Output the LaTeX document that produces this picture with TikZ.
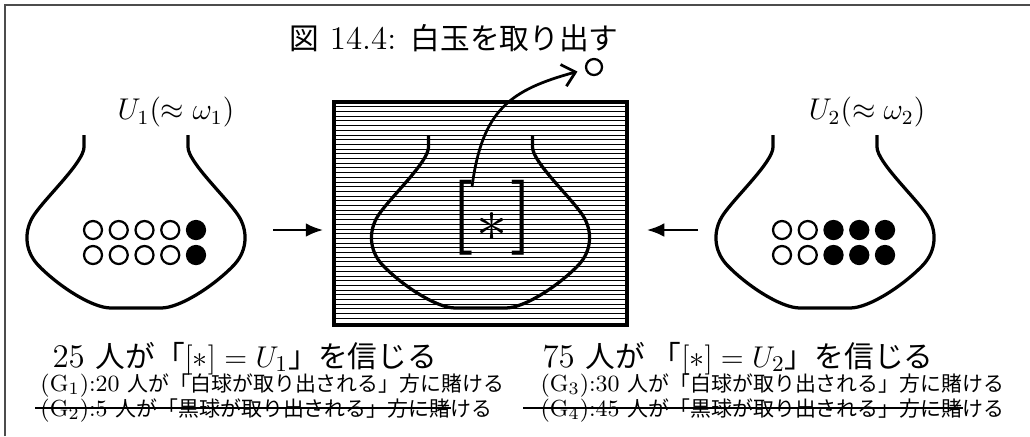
\documentclass[tikz,border=0pt]{standalone}
\usepackage{amsmath, amssymb}
\usepackage{fontspec}
\newfontfamily\jp[Scale=0.9]{Noto Sans CJK JP}
\usetikzlibrary{arrows.meta, calc}
\newcommand{\bigtext}{\fontsize{13.2}{15}\selectfont}
\newcommand{\labeltext}{\fontsize{12}{14}\selectfont}
\newcommand{\smalltext}{\fontsize{9.3}{11}\selectfont}

\begin{document}
\begin{tikzpicture}[x=0.4pt, y=-0.4pt,
  urnline/.style={line width=1.3pt, line join=round},
  ball/.style={line width=0.9pt},
  push/.style={line width=1.1pt, -{Latex[length=7pt, width=5.5pt]}},
  txt/.style={inner sep=0pt, anchor=base west},
  strike/.style={line width=0.5pt},
  urn/.pic={
    \draw[urnline] (-52,-97) -- (-52,-85) .. controls (-52,-70) and (-90,-35) .. (-102,-17)
      .. controls (-112,-2) and (-112,18) .. (-98,33)
      .. controls (-80,52) and (-45,76) .. (-25,76) -- (25,76)
      .. controls (45,76) and (80,52) .. (98,33)
      .. controls (112,18) and (112,-2) .. (102,-17)
      .. controls (90,-35) and (52,-70) .. (52,-85) -- (52,-97);
  }]
  \useasboundingbox (0,0) rectangle (1030,436);
  \draw[black!70, line width=0.6pt] (5,436) -- (5,5) -- (1030,5);

  \node[font=\bigtext] (title) at (454,38) {{\jp 図} 14.4: {\jp 白玉を取り出す}};

  % Urns
  \pic at (136,232) {urn};
  \pic at (825,232) {urn};
  \node[font=\labeltext] (u1) at (176,112) {$U_1(\approx\omega_1)$};
  \node[font=\labeltext] (u2) at (867,112) {$U_2(\approx\omega_2)$};

  \foreach \row in {230,255}{
    \foreach \i/\c in {0/white,1/white,2/white,3/white,4/black}
      \draw[ball, fill=\c] ({93+25.75*\i},\row) circle[radius=9];
    \foreach \i/\c in {0/white,1/white,2/black,3/black,4/black}
      \draw[ball, fill=\c] ({782+25.75*\i},\row) circle[radius=9];
  }

  % Hidden urn
  \node[draw, line width=1.4pt, minimum width=117.2pt, minimum height=89.2pt, inner sep=0pt] (box) at (480.5,213.5) {};
  \foreach \y in {106.8,111.5,...,322}
    \draw[line width=0.4pt] (335,\y) -- (626,\y);
  \pic at (480.5,232) {urn};
  \node[font=\fontsize{30}{36}\selectfont, inner sep=0pt] (star) at (492,218)
    {{\bfseries[}\kern1pt\raisebox{-2pt}{\fontsize{38}{40}\selectfont$\ast$}\kern1pt{\bfseries]}};

  \coordinate (ls) at (273,230);
  \coordinate (rs) at (698,230);
  \draw[push] (ls) -- ($(box.west)+(-9,16.5)$);
  \draw[push] (rs) -- ($(box.east)+(18,16.5)$);

  % Drawing a white ball
  \node[draw, circle, line width=0.9pt, minimum size=6.4pt, inner sep=0pt] (wb) at (594,67) {};
  \coordinate (pick) at (472,187);
  \draw[line width=1.1pt, -{Straight Barb[length=5pt, width=9pt]}, shorten >=3.2pt]
    (pick) .. controls (482,110) and (510,90) .. (wb);

  % Beliefs and bets
  \node[txt, font=\bigtext] (b1) at (52,367) {25 {\jp 人が「}$[\ast]=U_1${\jp 」を信じる}};
  \node[txt, font=\smalltext] (g1) at (40,391) {(G$_1$):20 {\jp 人が「白球が取り出される」方に賭ける}};
  \node[txt, font=\smalltext] (g2) at (40,416) {(G$_2$):5 {\jp 人が「黒球が取り出される」方に賭ける}};
  \draw[strike] ($(g2.base west)+(-5,-8)$) -- ($(g2.base east)+(-42,-8)$);

  \node[txt, font=\bigtext] (b2) at (542,367) {75 {\jp 人が 「}$[\ast]=U_2${\jp 」を信じる}};
  \node[txt, font=\smalltext] (g3) at (540,391) {(G$_3$):30 {\jp 人が「白球が取り出される」方に賭ける}};
  \node[txt, font=\smalltext] (g4) at (540,416) {(G$_4$):45 {\jp 人が「黒球が取り出される」方に賭ける}};
  \draw[strike] ($(g4.base west)+(-17,-8)$) -- ($(g4.base east)+(-42,-8)$);
\end{tikzpicture}
\end{document}
